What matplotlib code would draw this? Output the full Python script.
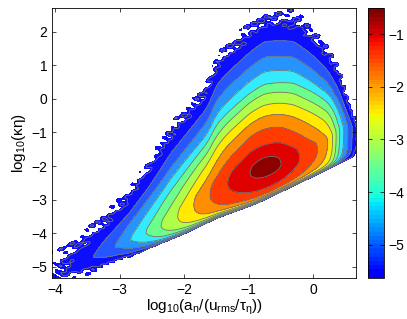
import numpy as np
import matplotlib
matplotlib.use('Agg')
import matplotlib.pyplot as plt
from matplotlib.colors import ListedColormap, Normalize
from matplotlib.cm import ScalarMappable

plt.rcParams['font.family'] = ['Liberation Sans', 'DejaVu Sans']
plt.rcParams['mathtext.fontset'] = 'custom'
plt.rcParams['mathtext.rm'] = 'Liberation Sans'
plt.rcParams['mathtext.it'] = 'Liberation Sans:italic'
plt.rcParams['mathtext.default'] = 'regular'

# contour levels of log10(PDF) and colour range
levels = [-5.63, -5.5, -5.0, -4.5, -4.0, -3.5, -3.0, -2.5, -2.0, -1.5, -1.0, -0.6, 0.0]
clim = (-5.63, -0.51)
floor_val = -5.75

# ridge of the PDF along each column
ridge_x = [-4.10, -3.85, -3.40, -3.06, -2.83, -2.59, -2.36, -2.10, -1.85, -1.60, -1.33, -0.99, -0.86,
           -0.73, -0.60, -0.48, -0.20, 0.08, 0.24, 0.31, 0.36, 0.41, 0.48, 0.54, 0.61, 0.67, 0.80]
ridge_val = [-5.75, -5.5, -5.0, -4.5, -4.0, -3.5, -3.0, -2.5, -2.0, -1.5, -1.0, -0.6, -0.53,
             -0.51, -0.53, -0.6, -1.0, -1.5, -2.0, -2.5, -3.0, -3.5, -4.0, -4.5, -5.0, -5.5, -5.9]
ridge_y = [-5.30, -5.05, -4.71, -4.41, -4.21, -4.01, -3.81, -3.51, -3.16, -2.85, -2.52, -2.20, -2.12,
           -2.06, -1.98, -1.92, -1.76, -1.52, -1.32, -1.20, -1.10, -1.00, -0.95, -0.90, -0.85, -0.80, -0.75]

# upper edge of the filled region
top_x = [-4.10, -3.86, -3.40, -2.88, -2.52, -2.21, -1.85, -1.64, -1.49, -1.23, -0.98, -0.75,
         -0.30, -0.05, 0.21, 0.42, 0.52, 0.62, 0.66, 0.80]
top_y = [-5.0, -4.3, -3.7, -2.72, -1.72, -0.73, 0.07, 0.57, 1.36, 1.86, 2.30, 2.66,
         2.66, 2.25, 1.66, 0.96, 0.27, -0.33, -0.63, -1.2]

# lower (steep) edge of the filled region
cliff_x = [-4.10, -3.54, -3.02, -2.52, -2.00, -1.49, -0.87, -0.36, 0.16, 0.62, 0.80]
cliff_y = [-5.55, -5.25, -4.85, -4.45, -4.03, -3.56, -3.12, -2.65, -2.17, -1.72, -1.45]

# fall-off above the ridge (fraction of drop vs fraction of distance to the upper edge)
up_t = [0, 0.035, 0.07, 0.15, 0.25, 0.33, 0.40, 0.47, 0.53, 0.61, 0.70, 0.80, 0.90, 1.0]
up_f = [0, 0.004, 0.017, 0.094, 0.19, 0.285, 0.38, 0.475, 0.57, 0.666, 0.76, 0.857, 0.95, 1.0]

# steepness of the fall-off below the ridge
shape_x = [-4.10, -3.00, -2.50, -2.00, -1.50, -1.00, 0.00, 0.40, 0.80]
low_k = [0.5, 1.0, 3.0, 6.0, 10.0, 14.0, 14.0, 12.0, 8.0]
low_q = [0.0, 0.0, 0.05, 0.10, 0.18, 0.22, 0.22, 0.15, 0.10]

# small per-band tweaks of where each fill colour is sampled, and paling of the cool end
band_shift = [0.0, 0.0, -0.15, -0.25, -0.2, 0, 0, 0, 0.1, 0.1, 0, 0]
band_white = [0.05, 0.05, 0.15, 0.15, 0.2, 0, 0, 0, 0, 0, 0, 0]


def smooth(a, n=15):
    ap = np.pad(a, n // 2, mode='edge')
    return np.convolve(ap, np.ones(n) / n, mode='valid')


xg = np.linspace(-4.1, 0.8, 600)
yg = np.linspace(-5.5, 2.8, 600)
X, Y = np.meshgrid(xg, yg)

R = smooth(np.interp(xg, ridge_x, ridge_val))
Yr = smooth(np.interp(xg, ridge_x, ridge_y))
Yt = smooth(np.interp(xg, top_x, top_y))
Yc = smooth(np.interp(xg, cliff_x, cliff_y))
K = np.interp(xg, shape_x, low_k)
Q = np.interp(xg, shape_x, low_q)
amp = np.maximum(R - floor_val, 0.02)

tu = (Y - Yr) / np.maximum(Yt - Yr, 0.05)
gu = np.where(tu <= 1, np.interp(tu, up_t, up_f), 1 + 2 * (tu - 1))
tl = (Yr - Y) / np.maximum(Yr - Yc, 0.05)
gl = Q * tl ** 2 + (1 - Q) * (np.exp(K * tl) - 1) / (np.exp(K) - 1)
Z = np.where(Y >= Yr, R - amp * gu, R - amp * gl)

# ragged outer fringe where the bins are sparse
tail = np.clip((-5.2 - Z) / 0.3, 0, 1) * np.clip((Z + 5.95) / 0.15, 0, 1)
rough = (0.6 * np.sin(X * 27 + 2 * np.sin(Y * 5)) * np.sin(Y * 24 + 2 * np.sin(X * 6))
         + 0.4 * np.sin(X * 13 - Y * 17 + 1.3))
Z = Z + 0.3 * tail * rough

base = plt.get_cmap('jet')
cmap = ListedColormap(base(np.linspace(0.11, 1.0, 64)))
norm = Normalize(*clim)
fill_colors = []
for v, sh, wh in zip(levels[:-1], band_shift, band_white):
    c = np.array(cmap(norm(v + sh)))
    c[:3] = (1 - wh) * c[:3] + wh
    if wh > 0:
        c[2] = 1.0
    fill_colors.append(tuple(c))

fig = plt.figure(figsize=(4.07, 3.19), dpi=100)
ax = fig.add_axes([0.128, 0.129, 0.747, 0.845])
ax.contourf(X, Y, Z, levels=levels, colors=fill_colors)
ax.contour(X, Y, Z, levels=levels[1:-1], colors='0.45', linewidths=0.6)
ax.set_xlim(-4.05, 0.67)
ax.set_ylim(-5.33, 2.70)
ax.set_xticks([-4, -3, -2, -1, 0])
ax.set_yticks([-5, -4, -3, -2, -1, 0, 1, 2])
ax.tick_params(direction='in', top=True, right=True, length=3, width=0.5, labelsize=10)
for s in ax.spines.values():
    s.set_linewidth(0.6)
ax.set_xlabel(r'log$_{10}$(a$_n$/(u$_{rms}$/τ$_η$))', fontsize=11, labelpad=1)
ax.set_ylabel(r'log$_{10}$(κη)', fontsize=11, labelpad=2)

cax = fig.add_axes([0.904, 0.129, 0.039, 0.845])
sm = ScalarMappable(norm=norm, cmap=cmap)
cb = fig.colorbar(sm, cax=cax, ticks=[-5, -4, -3, -2, -1])
cax.tick_params(direction='in', length=3, width=0.5, labelsize=10, left=True, right=True)
cb.outline.set_linewidth(0.6)

fig.savefig('out.png', dpi=100)
